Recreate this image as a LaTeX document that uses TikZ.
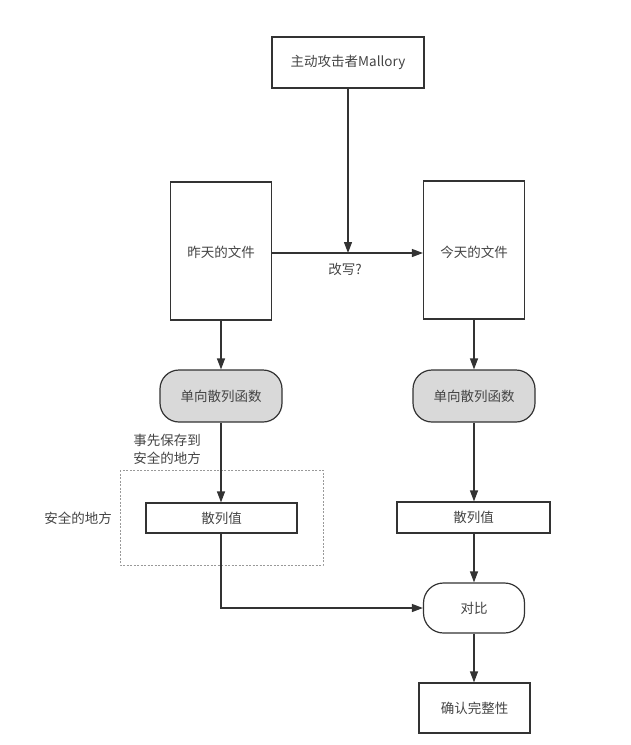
\documentclass[tikz,border=0pt]{standalone}
\usepackage{fontspec}
\setmainfont{Noto Sans CJK SC}
\usetikzlibrary{arrows.meta,shapes.misc}
\definecolor{ink}{HTML}{333333}
\definecolor{txt}{HTML}{444444}
\definecolor{fillg}{HTML}{D9D9D9}
\tikzset{
  every node/.style={font=\fontsize{13.5}{16}\selectfont, text=txt},
  box/.style={draw=ink, line width=1.2pt, rectangle, inner sep=0pt},
  doc/.style={box, minimum width=101pt, minimum height=138pt},
  func/.style={draw=ink, line width=1.2pt, rectangle, rounded corners=19pt, fill=fillg, minimum width=122pt, minimum height=52pt},
  cmp/.style={draw=ink, line width=1.2pt, rectangle, rounded corners=20pt, fill=white, minimum width=101pt, minimum height=50pt},
  conn/.style={draw=ink, line width=1.2pt, -{Triangle[length=11pt,width=8pt]}},
  safe/.style={draw=gray!80, line width=0.6pt, dash pattern=on 2pt off 1.5pt},
  plain/.style={text=txt}
}
\begin{document}
\begin{tikzpicture}[x=1pt,y=-1pt]
\useasboundingbox (0,0) rectangle (630,745);
% safe area
\draw[safe] (120,470) rectangle (323,565);
\node[box, minimum width=152pt, minimum height=51pt] (mal) at (348,62.5) {主动攻击者Mallory};
\node[doc] (yd) at (221,251) {};
\node at (221,252) (ydt) {昨天的文件};
\node[doc] (td) at (474,250) {};
\node at (474,252) (tdt) {今天的文件};
\node[func] (f1) at (221,396) {单向散列函数};
\node[func] (f2) at (474,396) {单向散列函数};
\node[box, minimum width=151pt, minimum height=30pt] (h1) at (221.5,518) {散列值};
\node[box, minimum width=153pt, minimum height=31pt] (h2) at (473.5,517.5) {散列值};
\node[cmp] (c) at (474,608) {对比};
\node[box, minimum width=111pt, minimum height=50pt] (ok) at (474.5,708) {确认完整性};
\coordinate (mid) at (348,253);
\coordinate (bend) at (221,608);
% labels
\node[plain] (lw) at (345,269) {改写?};
\node[plain, align=left, font=\fontsize{13.5}{18}\selectfont] (ls) at (167,449) {事先保存到\\安全的地方};
\node[plain] (la) at (78,518) {安全的地方};
% connectors
\draw[conn] (mal.south) -- (mid);
\draw[conn] (yd.east |- mid) -- (td.west |- mid);
\draw[conn] (yd.south) -- (f1.north);
\draw[conn] (td.south -| f2.north) -- (f2.north);
\draw[conn] (f1.south) -- (h1.north -| f1.south);
\draw[conn] (f2.south) -- (h2.north -| f2.south);
\draw[conn] (h2.south -| c.north) -- (c.north);
\draw[conn] (h1.south -| f1.south) -- (bend) -- (c.west);
\draw[conn] (c.south) -- (ok.north -| c.south);
\end{tikzpicture}
\end{document}
